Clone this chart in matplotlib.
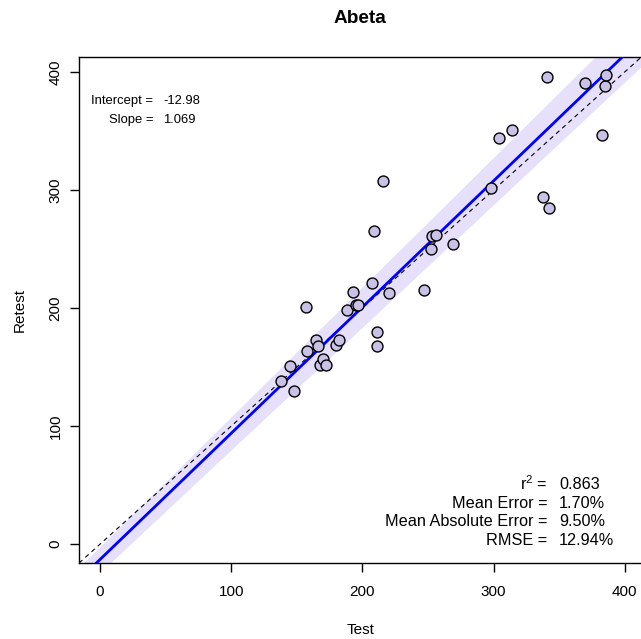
import numpy as np
import matplotlib
matplotlib.use('Agg')
import matplotlib.pyplot as plt

plt.rcParams['font.family'] = ['Liberation Sans', 'DejaVu Sans']
plt.rcParams['mathtext.default'] = 'regular'

# test / retest values
test = [138, 148, 145, 158, 157, 165, 166, 168, 170, 172, 180, 182, 188, 193,
        195, 197, 207, 209, 211, 211, 216, 220, 247, 252, 253, 256, 269, 298,
        304, 314, 338, 342, 341, 370, 383, 385, 386]
retest = [138, 130, 151, 164, 201, 173, 168, 152, 157, 152, 169, 173, 198, 214,
          203, 203, 221, 265, 180, 168, 308, 213, 215, 250, 261, 262, 254, 302,
          344, 351, 294, 285, 396, 391, 347, 388, 397]

# fit and band (intercept, slope)
fit = (-12.98, 1.069)
band_upper = (-1.98, 1.099)
band_lower = (-23.98, 1.039)

stat_labels = ['r$^2$ =', 'Mean Error =', 'Mean Absolute Error =', 'RMSE =']
stat_values = ['0.863', '1.70%', '9.50%', '12.94%']
coef_labels = ['Intercept =', 'Slope =']
coef_values = ['-12.98', '1.069']

lims = (-15.9, 412.9)


def main():
    fig = plt.figure(figsize=(6.41, 6.39), dpi=100)
    ax = fig.add_axes([79.1 / 641, (639 - 563) / 639, 562.6 / 641, 506.3 / 639])
    ax.set_xlim(lims)
    ax.set_ylim(lims)

    xs = np.linspace(lims[0], lims[1], 200)
    ax.fill_between(xs, band_lower[0] + band_lower[1] * xs,
                    band_upper[0] + band_upper[1] * xs,
                    color='#E6E0FB', lw=0, zorder=1)
    ax.axline((0, 0), slope=1, color='black', lw=0.8, dashes=(4, 3.5), zorder=2)
    ax.axline((0, fit[0]), slope=fit[1], color='#0000FF', lw=2, zorder=3)
    ax.scatter(test, retest, s=62, facecolor='#C9C2E6', edgecolor='black',
               linewidths=1.0, zorder=4)

    ax.set_xticks([0, 100, 200, 300, 400])
    ax.set_yticks([0, 100, 200, 300, 400])
    ax.tick_params(direction='out', length=6.5, width=1, labelsize=11)
    ax.tick_params(axis='x', pad=9.5)
    ax.tick_params(axis='y', pad=5.5)
    for lab in ax.get_yticklabels():
        lab.set_rotation(90)
        lab.set_va('center')
    for sp in ax.spines.values():
        sp.set_linewidth(1.0)

    ax.set_xlabel('Test', fontsize=11, labelpad=17)
    ax.set_ylabel('Retest', fontsize=11, labelpad=15.5)
    fig.text(360 / 641, (639 - 18.5) / 639, 'Abeta', fontsize=13.7, fontweight='bold',
             ha='center', va='center')

    for i, (lab, val) in enumerate(zip(coef_labels, coef_values)):
        y = 0.913 - i * 0.0375
        ax.text(0.132, y, lab, transform=ax.transAxes, ha='right', va='center', fontsize=9.4)
        ax.text(0.150, y, val, transform=ax.transAxes, ha='left', va='center', fontsize=9.4)

    for i, (lab, val) in enumerate(zip(stat_labels, stat_values)):
        y = 0.156 - i * 0.0375
        ax.text(0.832, y, lab, transform=ax.transAxes, ha='right', va='center', fontsize=11.7)
        ax.text(0.853, y, val, transform=ax.transAxes, ha='left', va='center', fontsize=11.7)

    fig.savefig('out.png', dpi=100)


if __name__ == '__main__':
    main()
